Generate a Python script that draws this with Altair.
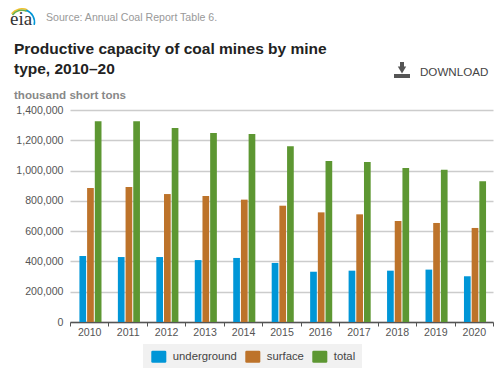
import altair as alt
import pandas as pd

years = ["2010","2011","2012","2013","2014","2015","2016","2017","2018","2019","2020"]
underground = [436000,429000,429000,409000,423000,390000,332000,339000,339000,346000,302000]
surface = [885000,891000,845000,832000,808000,768000,724000,711000,667000,654000,621000]
total = [1325000,1325000,1281000,1248000,1241000,1160000,1063000,1056000,1017000,1006000,929000]
series = ["underground","surface","total"]
colors = ["#0096d7","#bd732a","#5d9732"]

rows = []
for name, vals in zip(series, [underground, surface, total]):
    for y, v in zip(years, vals):
        rows.append({"year": y, "series": name, "value": v})
df = pd.DataFrame(rows)

L, T = 62, 102          # plot origin inside the chart (page offset 8px)
PX, PY = L + 8, T + 8   # plot origin on the page
SANS = "Liberation Sans"
ROUND = "M-1.12,-0.72Q-1.12,-0.9,-0.92,-0.9L0.92,-0.9Q1.12,-0.9,1.12,-0.72L1.12,0.72Q1.12,0.9,0.92,0.9L-0.92,0.9Q-1.12,0.9,-1.12,0.72Z"

bars = alt.Chart(df).mark_bar(size=6.7).encode(
    x=alt.X("year:N", title=None, sort=years,
            scale=alt.Scale(paddingInner=0, paddingOuter=0),
            axis=alt.Axis(labelAngle=0, labelFont=SANS, labelFontSize=10.6, labelColor="#555555",
                          domainColor="#555555", domainWidth=1.5, tickColor="#555555", tickSize=4,
                          tickBand="extent", labelPadding=1, grid=False)),
    xOffset=alt.XOffset("series:N", sort=series,
                        scale=alt.Scale(paddingInner=0, paddingOuter=1, align=0.58, domain=series)),
    y=alt.Y("value:Q", title=None,
            scale=alt.Scale(domain=[0, 1400000]),
            axis=alt.Axis(values=list(range(0, 1400001, 200000)), labelExpr="format(datum.value, ',.0f')",
                          domain=False, ticks=False,
                          labelFont=SANS, labelFontSize=10.6, labelColor="#555555", labelPadding=7,
                          gridColor="#cccccc", gridWidth=1.5)),
    color=alt.Color("series:N", sort=series,
                    scale=alt.Scale(domain=series, range=colors),
                    legend=alt.Legend(title=None, orient="none", direction="horizontal", columns=3,
                                      legendX=151.8 - PX, legendY=349.3 - PY, padding=0, zindex=2,
                                      symbolType=ROUND, symbolSize=180, symbolStrokeWidth=0,
                                      labelFont=SANS, labelFontSize=11.3, labelColor="#444444",
                                      labelOffset=7, columnPadding=7)),
)

def txt(s, x, y, size, color, bold=False, font=SANS):
    return alt.Chart(pd.DataFrame({"t": [s]})).mark_text(
        align="left", baseline="alphabetic", font=font, fontSize=size, color=color,
        fontWeight="bold" if bold else "normal", clip=False
    ).encode(x=alt.value(x - PX), y=alt.value(y - PY), text="t:N")

texts = [
    txt("Source: Annual Coal Report Table 6.", 46, 21, 10.6, "#999999"),
    txt("Productive capacity of coal mines by mine", 14, 54, 15.5, "#222222", True),
    txt("type, 2010\u201320", 14, 74, 15.5, "#222222", True),
    txt("thousand short tons", 14, 98.5, 11.6, "#888888", True),
    txt("DOWNLOAD", 420, 76, 11.6, "#444444"),
    txt("eia", 10, 25, 19, "#333333", False, "Liberation Serif"),
]

def arc(color, r, t0, t1, cx=22, cy=22):
    return alt.Chart(pd.DataFrame({"a": [0]})).mark_arc(
        radius=r, radius2=r - 1.6, theta=t0, theta2=t1, color=color
    ).encode(x=alt.value(cx - PX), y=alt.value(cy - PY))

logo = [arc("#f2c230", 14, 5.38, 6.7), arc("#6ab04c", 12.6, 5.35, 6.7), arc("#0096d7", 13.3, 0.35, 1.8)]

def box(x, y, x2, y2, color="#555555"):
    return alt.Chart(pd.DataFrame({"a": [0]})).mark_rect(color=color).encode(
        x=alt.value(x - PX), x2=alt.value(x2 - PX), y=alt.value(y - PY), y2=alt.value(y2 - PY))

icon = [
    box(394, 74, 410, 78),
    box(400, 62, 404, 68),
    alt.Chart(pd.DataFrame({"a": [0]})).mark_point(
        shape="triangle-down", filled=True, size=70, color="#555555", opacity=1
    ).encode(x=alt.value(402 - PX), y=alt.value(70 - PY)),
]

legend_bg = box(143, 344, 362, 368, "#f1f1f1")

chart = alt.layer(legend_bg, bars, *texts, *logo, *icon).properties(
    width=423, height=212,
    padding={"left": L, "top": T, "right": 1, "bottom": 46},
    autosize=alt.AutoSizeParams(type="none"),
    background="#ffffff",
).configure_view(stroke=None)

chart.save("out.html", embed_options={"renderer": "svg", "actions": False})
